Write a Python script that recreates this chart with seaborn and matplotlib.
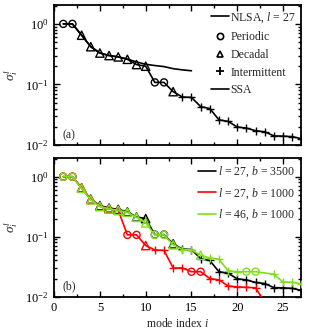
"""
Singular value spectra: NLSA vs SSA (a) and NLSA parameter sensitivity (b).
"""

import matplotlib
matplotlib.use("Agg")
import matplotlib.pyplot as plt
from matplotlib.lines import Line2D
from matplotlib.ticker import LogLocator, MultipleLocator, NullFormatter
import seaborn as sns

# ── Data ───────────────────────────────────────────────────
MODES = list(range(1, 28))

NLSA_27 = [1.0, 1.0, 0.65, 0.42, 0.33, 0.30, 0.285, 0.26, 0.213, 0.20,
           0.108, 0.108, 0.076, 0.062, 0.061, 0.043, 0.040, 0.026, 0.0245,
           0.0198, 0.019, 0.0172, 0.0165, 0.0141, 0.014, 0.0137, 0.0127]
NLSA_27_CLASS = ["P"] * 2 + ["D"] * 8 + ["P"] * 2 + ["D"] + ["I"] * 14

SSA = [1.0, 1.0, 0.65, 0.42, 0.33, 0.30, 0.285, 0.262, 0.235, 0.215,
       0.205, 0.197, 0.182, 0.174, 0.168]

RED_MODES = list(range(1, 24))
NLSA_27_B1000 = [1.0, 1.0, 0.65, 0.42, 0.32, 0.29, 0.275, 0.107, 0.107, 0.071,
                 0.060, 0.059, 0.030, 0.030, 0.026, 0.026, 0.020, 0.019,
                 0.015, 0.0145, 0.0143, 0.014, 0.008]
NLSA_27_B1000_CLASS = (["P"] * 2 + ["D"] * 5 + ["P"] * 2 + ["D"] + ["I"] * 4
                       + ["P"] * 2 + ["I"] * 7)

NLSA_46_B1000 = [1.0, 1.0, 0.64, 0.41, 0.32, 0.29, 0.275, 0.255, 0.21, 0.17,
                 0.107, 0.107, 0.073, 0.061, 0.060, 0.049, 0.044, 0.042,
                 0.027, 0.026, 0.026, 0.026, 0.0248, 0.0235, 0.0175, 0.0173,
                 0.0163]
NLSA_46_B1000_CLASS = (["P"] * 2 + ["D"] * 8 + ["P"] * 2 + ["D"] + ["I"] * 2
                       + ["D"] + ["I"] * 4 + ["P"] * 2 + [""] + ["I"] * 4)

CLASS_MARKERS = {"P": "o", "D": "^", "I": "+"}
CLASS_SIZES = {"P": 26, "D": 36, "I": 36}

BLACK, RED, GREEN = "black", "#ff0000", "#7ee01c"

# ── Style ───────────────────────────────────────────────────
sns.set_style("ticks")
plt.rcParams["font.family"] = ["Liberation Serif", "DejaVu Serif"]
plt.rcParams["mathtext.fontset"] = "custom"
plt.rcParams["mathtext.rm"] = "Liberation Serif"
plt.rcParams["mathtext.it"] = "Liberation Serif:italic"
plt.rcParams["axes.linewidth"] = 1.3
plt.rcParams["axes.edgecolor"] = "black"
plt.rcParams["xtick.color"] = "black"
plt.rcParams["ytick.color"] = "black"
FS = 8.5


def draw_series(ax, modes, vals, classes, color, z):
    sns.lineplot(x=modes, y=vals, color=color, lw=1.2, ax=ax,
                 estimator=None, sort=False, zorder=z)
    for cls, mk in CLASS_MARKERS.items():
        xs = [m for m, c in zip(modes, classes) if c == cls]
        ys = [v for v, c in zip(vals, classes) if c == cls]
        if not xs:
            continue
        if mk == "+":
            sns.scatterplot(x=xs, y=ys, marker=mk, s=CLASS_SIZES[cls],
                            color=color, linewidth=1.0, ax=ax, zorder=z + 0.5)
        else:
            sns.scatterplot(x=xs, y=ys, marker=mk, s=CLASS_SIZES[cls],
                            facecolor="none", edgecolor=color, linewidth=1.0,
                            ax=ax, zorder=z + 0.5)


def style_axis(ax, show_xlabels):
    ax.set_yscale("log")
    ax.set_xlim(0, 27)
    ax.set_ylim(0.01, 2.05)
    ax.xaxis.set_major_locator(MultipleLocator(5))
    ax.xaxis.set_minor_locator(MultipleLocator(2.5))
    ax.yaxis.set_major_locator(LogLocator(base=10, numticks=5))
    ax.yaxis.set_minor_locator(LogLocator(base=10, subs=range(2, 10), numticks=20))
    ax.yaxis.set_minor_formatter(NullFormatter())
    ax.tick_params(which="both", direction="in", top=True, right=True,
                   labelsize=FS + 0.5, width=1.0)
    ax.tick_params(which="major", length=4, pad=4)
    ax.tick_params(which="minor", length=2)
    if not show_xlabels:
        ax.tick_params(labelbottom=False)
    ax.set_ylabel(r"$\sigma_i^l$", fontsize=FS + 1, labelpad=4)
    ax.set_xlabel("")


fig = plt.figure(figsize=(3.11, 3.34), dpi=100)
ax_a = fig.add_axes([0.174, 0.566, 0.795, 0.419])
ax_b = fig.add_axes([0.174, 0.112, 0.795, 0.415])

# ── (a) NLSA vs SSA ─────────────────────────────────────────
ax_a.set_yscale("log")
sns.lineplot(x=MODES[:len(SSA)], y=SSA, color=BLACK, lw=1.2, ax=ax_a,
             estimator=None, sort=False, zorder=1.5)
draw_series(ax_a, MODES, NLSA_27, NLSA_27_CLASS, BLACK, 2)
style_axis(ax_a, show_xlabels=False)
ax_a.text(0.035, 0.05, "(a)", transform=ax_a.transAxes, fontsize=FS)

handles_a = [
    Line2D([], [], color=BLACK, lw=1.2),
    Line2D([], [], color=BLACK, marker="o", ls="none", mfc="none", ms=4.5, mew=1.2),
    Line2D([], [], color=BLACK, marker="^", ls="none", mfc="none", ms=5, mew=1.2),
    Line2D([], [], color=BLACK, marker="+", ls="none", ms=5.5, mew=1.3),
    Line2D([], [], color=BLACK, lw=1.2),
]
labels_a = ["NLSA, $l$ = 27", "Periodic", "Decadal", "Intermittent", "SSA"]
ax_a.legend(handles_a, labels_a, loc="upper right", frameon=False,
            fontsize=FS, handlelength=1.5, handletextpad=0.15,
            labelspacing=0.5, borderaxespad=0.05)

# ── (b) parameter sensitivity ───────────────────────────────
ax_b.set_yscale("log")
draw_series(ax_b, MODES, NLSA_27, NLSA_27_CLASS, BLACK, 2)
draw_series(ax_b, RED_MODES, NLSA_27_B1000, NLSA_27_B1000_CLASS, RED, 3)
draw_series(ax_b, MODES, NLSA_46_B1000, NLSA_46_B1000_CLASS, GREEN, 4)
style_axis(ax_b, show_xlabels=True)
ax_b.set_xlabel("mode index $i$", fontsize=FS, labelpad=2)
ax_b.text(0.035, 0.05, "(b)", transform=ax_b.transAxes, fontsize=FS)

handles_b = [Line2D([], [], color=c, lw=1.2) for c in (BLACK, RED, GREEN)]
labels_b = ["$l$ = 27, $b$ = 3500", "$l$ = 27, $b$ = 1000", "$l$ = 46, $b$ = 1000"]
ax_b.legend(handles_b, labels_b, loc="upper right", frameon=False,
            fontsize=FS, handlelength=1.5, handletextpad=0.15,
            labelspacing=0.6, borderaxespad=0.15)

fig.savefig("out.png", dpi=100)
